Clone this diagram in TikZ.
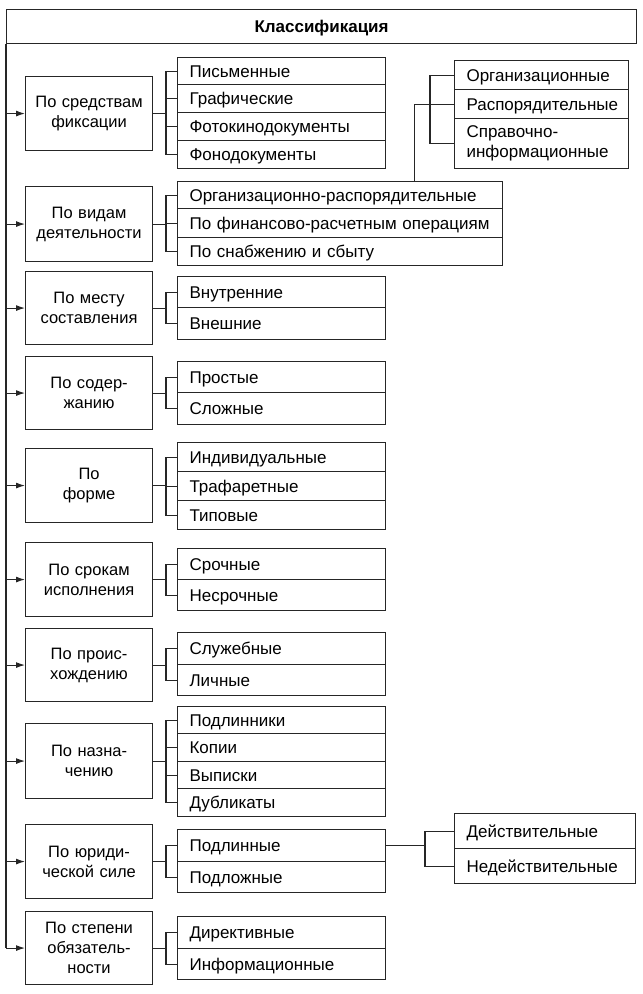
\documentclass[tikz,border=0pt]{standalone}
\usepackage{fontspec}
\setmainfont{Liberation Sans}
\usetikzlibrary{arrows.meta,calc}
\newcommand\fs{\fontsize{17}{20}\selectfont}
\newcommand\fc{\fontsize{16.5}{20}\selectfont}
\begin{document}
\begin{tikzpicture}[x=1pt,y=-1pt,
  box/.style={draw=black!85, line width=1.1pt, inner sep=0pt, font=\fs, anchor=north west},
  cat/.style={box, font=\fc, minimum width=127pt, text width=120pt, align=center},
  one/.style={box, align=left, text height=12pt, text depth=0pt},
  itm/.style={one, minimum width=208pt, text width=184pt},
  wide/.style={one, minimum width=325pt, text width=301pt},
  rtop/.style={box, minimum width=174pt, text width=150pt, align=left},
  rbot/.style={one, minimum width=181pt, text width=157pt},
  ln/.style={draw=black!85, line width=1.1pt},
  arr/.style={ln, -{Latex[length=9pt,width=6pt]}}
]
\useasboundingbox (0,0) rectangle (643,994);

\node[box, minimum width=630pt, minimum height=34pt, font=\fs\bfseries, text height=12pt, text depth=0pt] (title) at (6,9) {Классификация};

% categories
\node[cat, minimum height=74pt] (c1) at (25,76) {По средствам\\фиксации};
\node[cat, minimum height=75pt] (c2) at (25,186) {По видам\\деятельности};
\node[cat, minimum height=73pt] (c3) at (25,271) {По месту\\составления};
\node[cat, minimum height=73pt] (c4) at (25,356) {По содер-\\жанию};
\node[cat, minimum height=74pt] (c5) at (25,448) {По\\форме};
\node[cat, minimum height=74pt] (c6) at (25,542) {По срокам\\исполнения};
\node[cat, minimum height=73pt] (c7) at (25,628) {По проис-\\хождению};
\node[cat, minimum height=75pt] (c8) at (25,723) {По назна-\\чению};
\node[cat, minimum height=74pt] (c9) at (25,824) {По юриди-\\ческой силе};
\node[cat, minimum height=73pt] (c10) at (25,911) {По степени\\обязатель-\\ности};

% group 1
\node[itm, minimum height=27pt] (i11) at (177,57) {Письменные};
\node[itm, minimum height=28pt] (i12) at (177,84) {Графические};
\node[itm, minimum height=28pt] (i13) at (177,112) {Фотокинодокументы};
\node[itm, minimum height=28pt] (i14) at (177,140) {Фонодокументы};
% group 2
\node[wide, minimum height=27pt] (i21) at (177,181) {Организационно-распорядительные};
\node[wide, minimum height=29pt] (i22) at (177,208) {По финансово-расчетным операциям};
\node[wide, minimum height=28pt] (i23) at (177,237) {По снабжению и сбыту};
% group 3
\node[itm, minimum height=31pt] (i31) at (177,276) {Внутренние};
\node[itm, minimum height=32pt] (i32) at (177,307) {Внешние};
% group 4
\node[itm, minimum height=31pt] (i41) at (177,361) {Простые};
\node[itm, minimum height=32pt] (i42) at (177,392) {Сложные};
% group 5
\node[itm, minimum height=29pt] (i51) at (177,442) {Индивидуальные};
\node[itm, minimum height=29pt] (i52) at (177,471) {Трафаретные};
\node[itm, minimum height=29pt] (i53) at (177,500) {Типовые};
% group 6
\node[itm, minimum height=31pt] (i61) at (177,548) {Срочные};
\node[itm, minimum height=31pt] (i62) at (177,579) {Несрочные};
% group 7
\node[itm, minimum height=32pt] (i71) at (177,632) {Служебные};
\node[itm, minimum height=31pt] (i72) at (177,664) {Личные};
% group 8
\node[itm, minimum height=27pt] (i81) at (177,706) {Подлинники};
\node[itm, minimum height=28pt] (i82) at (177,733) {Копии};
\node[itm, minimum height=27pt] (i83) at (177,761) {Выписки};
\node[itm, minimum height=28pt] (i84) at (177,788) {Дубликаты};
% group 9
\node[itm, minimum height=32pt] (i91) at (177,829) {Подлинные};
\node[itm, minimum height=31pt] (i92) at (177,861) {Подложные};
% group 10
\node[itm, minimum height=32pt] (i101) at (177,916) {Директивные};
\node[itm, minimum height=31pt] (i102) at (177,948) {Информационные};

% right top group
\node[rtop, minimum height=29pt, text height=12pt, text depth=0pt] (r1) at (454,60) {Организационные};
\node[rtop, minimum height=29pt, text height=12pt, text depth=0pt] (r2) at (454,89) {Распорядительные};
\node[rtop, minimum height=50pt] (r3) at (454,118) {Справочно-\\информационные};
% right bottom group
\node[rbot, minimum height=35pt] (s1) at (454,813) {Действительные};
\node[rbot, minimum height=35pt] (s2) at (454,848) {Недействительные};

% trunk and arrows
\draw[ln] (title.south west) -- (title.south west |- c10.west);
\foreach \c in {c1,c2,c3,c4,c5,c6,c7,c8,c9,c10}
  \draw[arr] (title.south west |- \c.west) -- (\c.west);

% brackets
\draw[ln] (c1.east) -- ++(14,0);
\draw[ln] (i11.west) -- ++(-11,0) |- (i14.west);
\draw[ln] (i12.west) -- ++(-11,0);
\draw[ln] (i13.west) -- ++(-11,0);

\draw[ln] (c2.east) -- ++(14,0);
\draw[ln] (i21.west) -- ++(-11,0) |- (i23.west);
\draw[ln] (i22.west) -- ++(-11,0);

\draw[ln] (c3.east) -- ++(14,0);
\draw[ln] (i31.west) -- ++(-11,0) |- (i32.west);

\draw[ln] (c4.east) -- ++(14,0);
\draw[ln] (i41.west) -- ++(-11,0) |- (i42.west);

\draw[ln] (c5.east) -- ++(14,0);
\draw[ln] (i51.west) -- ++(-11,0) |- (i53.west);
\draw[ln] (i52.west) -- ++(-11,0);

\draw[ln] (c6.east) -- ++(14,0);
\draw[ln] (i61.west) -- ++(-11,0) |- (i62.west);

\draw[ln] (c7.east) -- ++(14,0);
\draw[ln] (i71.west) -- ++(-11,0) |- (i72.west);

\draw[ln] (c8.east) -- ++(14,0);
\draw[ln] (i81.west) -- ++(-11,0) |- (i84.west);
\draw[ln] (i82.west) -- ++(-11,0);
\draw[ln] (i83.west) -- ++(-11,0);

\draw[ln] (c9.east) -- ++(14,0);
\draw[ln] (i91.west) -- ++(-11,0) |- (i92.west);

\draw[ln] (c10.east) -- ++(14,0);
\draw[ln] (i101.west) -- ++(-11,0) |- (i102.west);

% right top connectors
\draw[ln] (r1.west) -- ++(-24,0) |- (r3.west);
\draw[ln] (r2.west) -| ($(i21.north east)+(-89,0)$);

% right bottom connectors
\draw[ln] (i91.east) -- ++(40,0);
\draw[ln] (s1.west) -- ++(-29,0) |- (s2.west);
\end{tikzpicture}
\end{document}
